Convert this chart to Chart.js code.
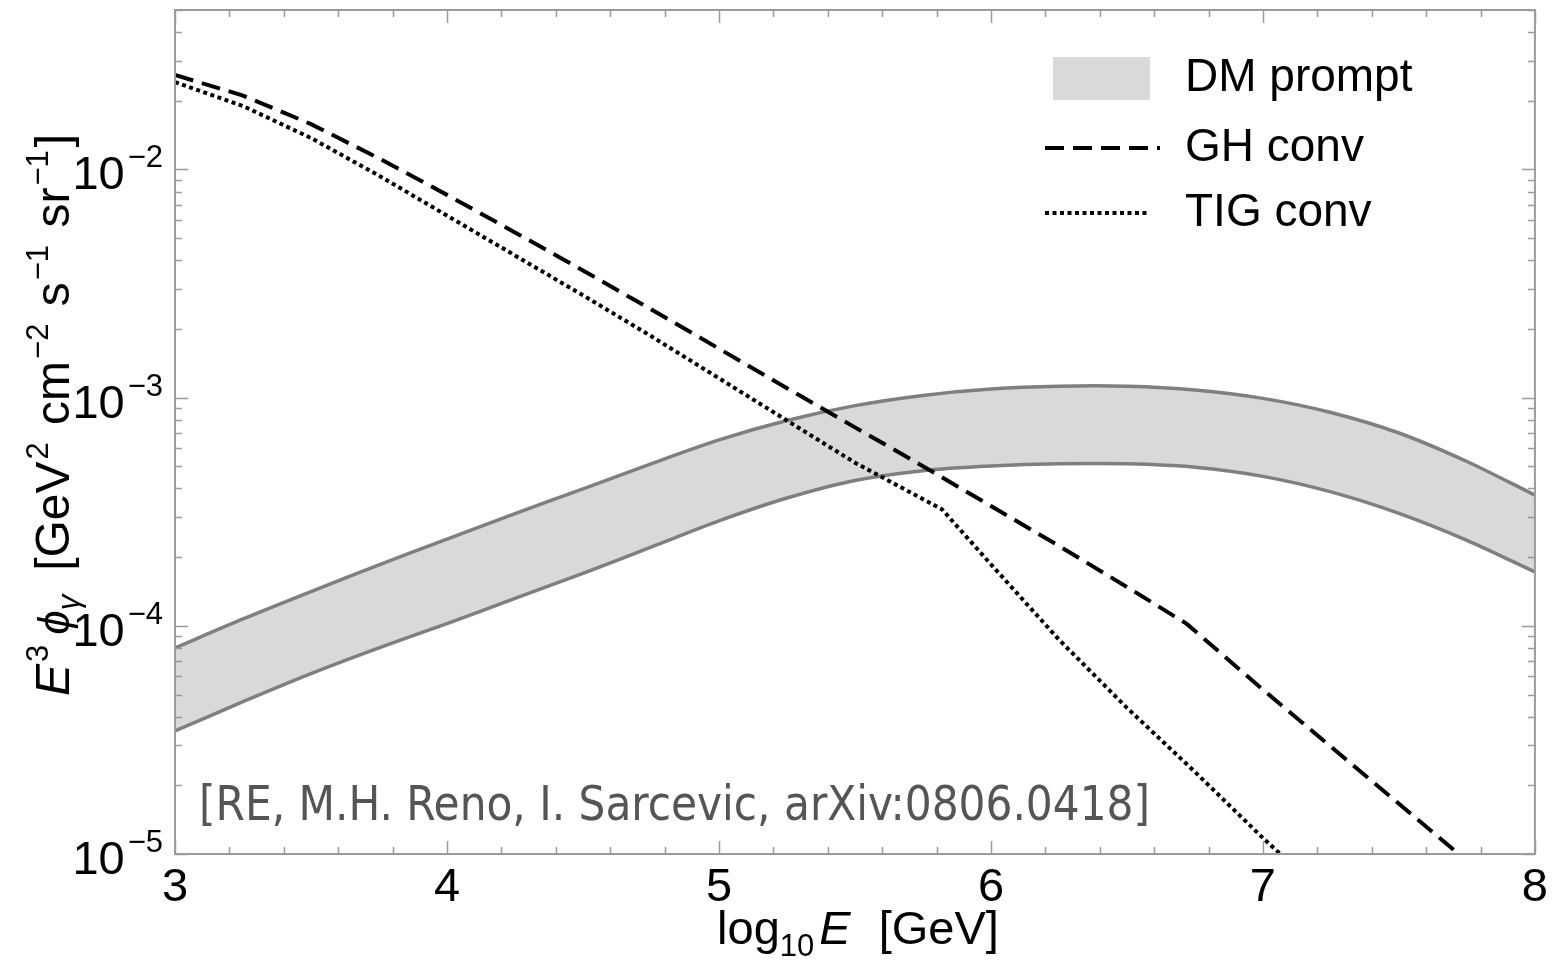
<!DOCTYPE html>
<html>
<head>
<meta charset="utf-8">
<title>E3 phi gamma</title>
<script src="https://cdn.jsdelivr.net/npm/chart.js@4.4.1/dist/chart.umd.min.js"></script>
<style>
  html, body { margin: 0; padding: 0; background: #fff; }
  canvas { display: block; }
</style>
</head>
<body>
<canvas id="fluxChart" width="1554" height="963"></canvas>
<script>
// log10 E [GeV] and E^3 phi values
const bandE   = [3.0, 3.25, 3.5, 3.75, 4.0, 4.25, 4.5, 4.75, 5.0, 5.25, 5.5, 5.75, 6.0, 6.25, 6.5, 6.75, 7.0, 7.25, 7.5, 7.75, 8.0];
const dmUpper = [8.0e-5, 1.072e-4, 1.413e-4, 1.849e-4, 2.399e-4, 3.105e-4, 3.981e-4, 5.129e-4, 6.531e-4, 7.943e-4, 9.226e-4, 1.023e-3, 1.091e-3, 1.122e-3, 1.122e-3, 1.081e-3, 9.93e-4, 8.61e-4, 7.0e-4, 5.25e-4, 3.74e-4];
const dmLower = [3.46e-5, 4.65e-5, 6.17e-5, 8.0e-5, 1.023e-4, 1.318e-4, 1.698e-4, 2.213e-4, 2.884e-4, 3.631e-4, 4.335e-4, 4.786e-4, 5.012e-4, 5.129e-4, 5.129e-4, 4.955e-4, 4.519e-4, 3.864e-4, 3.112e-4, 2.371e-4, 1.722e-4];

const ghE    = [3.0, 3.25, 3.5, 3.75, 4.0, 4.25, 4.5, 4.75, 5.0, 5.25, 5.5, 5.75, 6.0, 6.25, 6.5, 6.72, 7.0, 7.5, 7.8];
const ghConv = [0.02594, 0.02109, 0.01581, 0.01119, 7.74e-3, 5.30e-3, 3.61e-3, 2.44e-3, 1.64e-3, 1.10e-3, 7.41e-4, 5.01e-4, 3.35e-4, 2.24e-4, 1.48e-4, 1.02e-4, 5.25e-5, 1.66e-5, 8.3e-6];

const tigE    = [3.0, 3.25, 3.5, 3.75, 4.0, 4.25, 4.5, 4.75, 5.0, 5.25, 5.5, 5.82, 6.0, 6.25, 6.5, 6.75, 7.0, 7.2];
const tigConv = [0.02415, 0.01897, 0.01374, 9.40e-3, 6.28e-3, 4.20e-3, 2.81e-3, 1.862e-3, 1.216e-3, 7.94e-4, 5.19e-4, 3.24e-4, 1.86e-4, 8.7e-5, 4.37e-5, 2.29e-5, 1.175e-5, 7.1e-6];

const xMin = 3, xMax = 8;
const yMin = 1e-5, yMax = 0.05;
const yDecades = [-5, -4, -3, -2];

const legendLabels = ['DM prompt', 'GH conv', 'TIG conv'];
const creditText = '[RE, M.H. Reno, I. Sarcevic, arXiv:0806.0418]';

const FONT = '"Liberation Sans", Arial, Helvetica, sans-serif';
const frameColor = '#9b9b9b';
const bandFill = '#d9d9d9';
const bandEdge = '#7f7f7f';
const ghDash = [19, 9];
const tigDash = [4, 3.5];

function pts(xs, ys) {
    return xs.map((v, i) => ({ x: v, y: ys[i] }));
}

// text pieces on one baseline (for super/subscripts and italics)
function richWidth(ctx, parts) {
    let w = 0;
    parts.forEach(p => {
        ctx.font = (p.italic ? 'italic ' : '') + p.size + 'px ' + FONT;
        w += ctx.measureText(p.t).width + (p.gap || 0);
    });
    return w;
}

function drawRich(ctx, parts, x, y) {
    ctx.textAlign = 'left';
    ctx.textBaseline = 'alphabetic';
    parts.forEach(p => {
        ctx.font = (p.italic ? 'italic ' : '') + p.size + 'px ' + FONT;
        ctx.fillText(p.t, x, y + (p.dy || 0));
        x += ctx.measureText(p.t).width + (p.gap || 0);
    });
}

const decorations = {
    id: 'decorations',
    afterDraw(chart) {
        const { ctx, chartArea: a, scales } = chart;
        const xs = scales.x, ys = scales.y;
        ctx.save();

        // frame
        ctx.strokeStyle = frameColor;
        ctx.lineWidth = 2;
        ctx.setLineDash([]);
        ctx.strokeRect(a.left, a.top, a.right - a.left, a.bottom - a.top);

        // inward ticks, x
        ctx.lineWidth = 1.5;
        ctx.beginPath();
        for (let i = 0; i <= (xMax - xMin) * 5; i++) {
            const v = xMin + i * 0.2;
            const px = Math.round(xs.getPixelForValue(v)) + 0.5;
            const len = i % 5 === 0 ? 13 : 7;
            ctx.moveTo(px, a.bottom); ctx.lineTo(px, a.bottom - len);
            ctx.moveTo(px, a.top); ctx.lineTo(px, a.top + len);
        }
        // inward ticks, y (log)
        for (let d = -5; d <= -2; d++) {
            for (let m = 1; m <= 9; m++) {
                const v = m * Math.pow(10, d);
                if (v > yMax * 1.0001) break;
                const py = Math.round(ys.getPixelForValue(v)) + 0.5;
                const len = m === 1 ? 13 : 7;
                ctx.moveTo(a.left, py); ctx.lineTo(a.left + len, py);
                ctx.moveTo(a.right, py); ctx.lineTo(a.right - len, py);
            }
        }
        ctx.stroke();

        // y tick labels 10^n
        ctx.fillStyle = '#000';
        yDecades.forEach(d => {
            const py = ys.getPixelForValue(Math.pow(10, d));
            const parts = [
                { t: '10', size: 47, gap: 3 },
                { t: '\u2212' + Math.abs(d), size: 31, dy: -22 }
            ];
            const w = richWidth(ctx, parts);
            drawRich(ctx, parts, 163 - w, py + 20);
        });

        // x title
        const xt = [
            { t: 'log', size: 47 },
            { t: '10', size: 31, dy: 12, gap: 5 },
            { t: 'E', size: 47, italic: true, gap: 2 },
            { t: '  [GeV]', size: 47 }
        ];
        const xw = richWidth(ctx, xt);
        drawRich(ctx, xt, 858 - xw / 2, 944);

        // y title, rotated
        const yt = [
            { t: 'E', size: 48, italic: true, gap: 2 },
            { t: '3', size: 31, dy: -21, gap: 10 },
            { t: '\u03d5', size: 44, italic: true },
            { t: '\u03b3', size: 31, italic: true, dy: 10, gap: 24 },
            { t: '[GeV', size: 48, gap: 2 },
            { t: '2', size: 31, dy: -21, gap: 4 },
            { t: ' cm', size: 48, gap: 2 },
            { t: '\u22122', size: 31, dy: -21, gap: 4 },
            { t: ' s', size: 48, gap: 2 },
            { t: '\u22121', size: 31, dy: -21, gap: 4 },
            { t: ' sr', size: 48, gap: 2 },
            { t: '\u22121', size: 31, dy: -21, gap: 3 },
            { t: ']', size: 48 }
        ];
        const yw = richWidth(ctx, yt);
        ctx.save();
        ctx.translate(69, 415);
        ctx.rotate(-Math.PI / 2);
        drawRich(ctx, yt, -yw / 2, 0);
        ctx.restore();

        // legend
        ctx.fillStyle = bandFill;
        ctx.fillRect(1053, 57, 97, 43);
        ctx.strokeStyle = '#000';
        ctx.lineWidth = 4;
        ctx.setLineDash(ghDash);
        ctx.beginPath(); ctx.moveTo(1045, 148); ctx.lineTo(1160, 148); ctx.stroke();
        ctx.setLineDash(tigDash);
        ctx.beginPath(); ctx.moveTo(1045, 213); ctx.lineTo(1150, 213); ctx.stroke();
        ctx.setLineDash([]);
        ctx.fillStyle = '#000';
        ctx.font = '46px ' + FONT;
        ctx.textAlign = 'left';
        ctx.textBaseline = 'middle';
        ctx.fillText(legendLabels[0], 1185, 78);
        ctx.fillText(legendLabels[1], 1185, 148);
        ctx.fillText(legendLabels[2], 1185, 213);

        // credit
        ctx.fillStyle = '#555';
        ctx.font = '48px "DejaVu Sans Condensed", "DejaVu Sans", sans-serif';
        ctx.textBaseline = 'alphabetic';
        ctx.fillText(creditText, 199, 820, 951);

        ctx.restore();
    }
};

new Chart(document.getElementById('fluxChart'), {
    type: 'line',
    data: {
        datasets: [
            {
                label: legendLabels[1],
                data: pts(ghE, ghConv),
                borderColor: '#000',
                borderWidth: 4,
                borderDash: ghDash,
                pointRadius: 0,
                fill: false,
                tension: 0
            },
            {
                label: legendLabels[2],
                data: pts(tigE, tigConv),
                borderColor: '#000',
                borderWidth: 4,
                borderDash: tigDash,
                pointRadius: 0,
                fill: false,
                tension: 0
            },
            {
                label: legendLabels[0] + ' upper',
                data: pts(bandE, dmUpper),
                borderColor: bandEdge,
                borderWidth: 3.5,
                pointRadius: 0,
                fill: false,
                tension: 0.3
            },
            {
                label: legendLabels[0],
                data: pts(bandE, dmLower),
                borderColor: bandEdge,
                borderWidth: 3.5,
                backgroundColor: bandFill,
                pointRadius: 0,
                fill: '-1',
                tension: 0.3
            }
        ]
    },
    options: {
        responsive: false,
        animation: false,
        layout: { padding: { top: 10, right: 19, left: 0, bottom: 0 } },
        plugins: {
            legend: { display: false },
            tooltip: { enabled: false }
        },
        scales: {
            x: {
                type: 'linear',
                min: xMin,
                max: xMax,
                grid: { display: false, drawTicks: false },
                border: { display: false },
                ticks: {
                    stepSize: 1,
                    padding: 6,
                    color: '#000',
                    font: { family: FONT, size: 47 },
                    callback: v => Number.isInteger(v) ? String(v) : ''
                },
                afterFit: s => { s.height = 109; }
            },
            y: {
                type: 'logarithmic',
                min: yMin,
                max: yMax,
                grid: { display: false, drawTicks: false },
                border: { display: false },
                ticks: { display: false },
                afterFit: s => { s.width = 175; }
            }
        }
    },
    plugins: [decorations]
});
</script>
</body>
</html>
